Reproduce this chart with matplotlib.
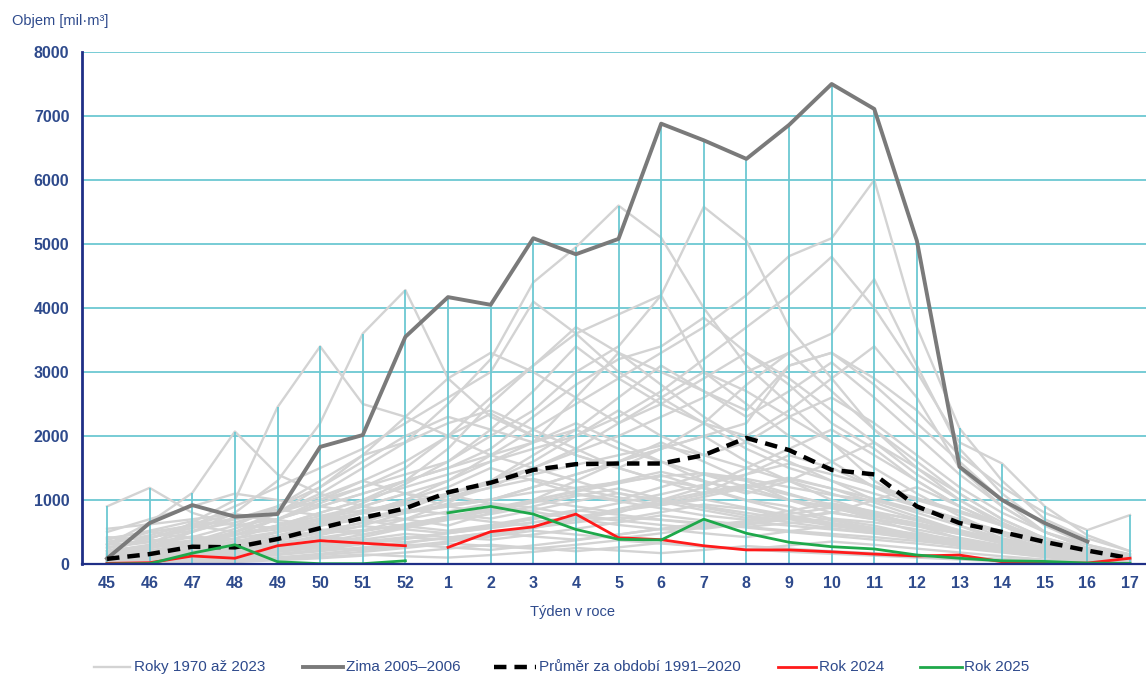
import numpy as np
import matplotlib
matplotlib.use("Agg")
import matplotlib.pyplot as plt
from matplotlib.lines import Line2D

plt.rcParams['font.family'] = ['Liberation Sans', 'DejaVu Sans']

# weeks of the winter season
weeks = [45, 46, 47, 48, 49, 50, 51, 52, 1, 2, 3, 4, 5, 6, 7, 8, 9, 10, 11, 12, 13, 14, 15, 16, 17]
yticks = [0, 1000, 2000, 3000, 4000, 5000, 6000, 7000, 8000]

# years 1970-2023
gray_years = [
    [120, 300, 650, 1000, 2450, 3400, 2500, 2300, 2000, 1700, 1500, 1300, 1100, 1000, 900, 800, 700, 600, 500, 400, 300, 200, 120, 60, 30],
    [900, 1190, 800, 600, 700, 900, 1100, 1300, 1500, 1700, 1900, 2100, 1800, 1600, 1400, 1200, 1000, 900, 700, 500, 350, 250, 150, 80, 40],
    [300, 650, 1110, 2070, 1400, 1100, 900, 800, 900, 1000, 1200, 1400, 1600, 1800, 2000, 1600, 1300, 1000, 800, 600, 400, 250, 150, 80, 40],
    [100, 250, 500, 800, 1300, 2200, 3600, 4280, 2900, 2300, 2000, 1700, 1500, 1300, 1200, 1000, 900, 700, 600, 450, 300, 200, 120, 60, 30],
    [50, 100, 180, 300, 450, 600, 800, 1000, 1300, 1700, 2100, 2500, 2900, 3300, 3700, 4200, 4810, 5090, 6000, 3700, 2120, 1300, 700, 400, 200],
    [80, 200, 350, 550, 800, 1100, 1500, 1900, 2500, 3200, 4400, 4950, 5600, 5100, 4000, 3100, 2500, 1900, 1300, 900, 600, 350, 200, 100, 50],
    [60, 150, 300, 450, 700, 950, 1200, 1500, 2000, 2600, 3100, 3600, 3900, 4200, 5580, 5050, 3700, 2900, 2100, 1500, 1000, 600, 300, 150, 70],
    [40, 90, 150, 250, 380, 500, 650, 850, 1100, 1300, 1500, 1750, 2000, 2300, 2600, 3000, 3300, 3600, 4450, 3100, 1800, 1100, 600, 300, 150],
    [200, 300, 420, 600, 900, 1200, 1600, 2000, 2300, 2100, 1900, 2600, 3300, 3000, 2700, 2400, 3100, 3300, 2800, 2200, 1600, 1000, 500, 250, 120],
    [150, 250, 350, 500, 700, 900, 1100, 1300, 1500, 1800, 2300, 2800, 3200, 3400, 3850, 3300, 2800, 2200, 1800, 1300, 900, 600, 400, 200, 100],
    [400, 500, 600, 700, 800, 1000, 1200, 1400, 1600, 2000, 2400, 3000, 3400, 4200, 3000, 2500, 2000, 1600, 1200, 900, 700, 400, 250, 120, 60],
    [100, 200, 300, 400, 500, 600, 700, 800, 900, 1000, 1200, 1400, 1600, 1800, 2000, 2200, 3100, 3300, 2900, 2400, 1700, 1200, 800, 530, 765],
    [250, 400, 600, 900, 1200, 1500, 1800, 2200, 2600, 3000, 4100, 3600, 3000, 2600, 2200, 1800, 1500, 1300, 1100, 900, 700, 500, 300, 150, 80],
    [50, 120, 250, 400, 600, 800, 1000, 1200, 1400, 1600, 1800, 2000, 2300, 2700, 3200, 3700, 4200, 4800, 4000, 3000, 1900, 1570, 900, 450, 200],
    [100, 180, 300, 500, 800, 1200, 1700, 2300, 2900, 3300, 3000, 2600, 2200, 2500, 2900, 3300, 2900, 2400, 1900, 1400, 1000, 650, 350, 180, 80],
    [60, 120, 200, 320, 500, 700, 950, 1250, 1600, 2100, 2700, 3400, 2900, 2500, 2200, 2000, 2400, 2900, 3400, 2600, 1500, 900, 500, 250, 100],
    [200, 260, 350, 460, 600, 800, 1000, 1300, 1800, 2500, 3100, 3700, 3300, 2800, 2300, 1900, 1600, 1300, 1000, 800, 600, 400, 250, 120, 50],
    [30, 60, 110, 170, 260, 380, 520, 700, 950, 1300, 1700, 2100, 2600, 3100, 2700, 2300, 2700, 3150, 2600, 2000, 1400, 900, 500, 250, 120],
    [350, 420, 520, 650, 820, 1050, 1300, 1600, 2000, 2350, 2000, 1700, 1500, 1800, 2200, 2800, 3300, 2700, 2100, 1600, 1100, 700, 400, 200, 90],
    [300, 350, 500, 700, 900, 1300, 1700, 1900, 2200, 2400, 2100, 1800, 1500, 1300, 1100, 1400, 1700, 1500, 1200, 1000, 800, 600, 400, 250, 150],
    [100, 150, 200, 300, 500, 700, 900, 1100, 1000, 1300, 1600, 2000, 2400, 2000, 1700, 1900, 2300, 2600, 2200, 1700, 1200, 800, 500, 300, 150],
    [500, 700, 900, 1100, 1000, 900, 800, 1000, 1200, 1500, 1300, 1100, 1000, 1200, 1400, 1300, 1100, 900, 800, 700, 500, 350, 200, 100, 50],
    [200, 400, 600, 500, 700, 1000, 1300, 1100, 900, 800, 1000, 1300, 1600, 1900, 1600, 1300, 1000, 800, 1000, 1200, 900, 600, 350, 200, 100],
    [50, 80, 120, 200, 300, 450, 600, 800, 1000, 1200, 1500, 1800, 2200, 2600, 3000, 2700, 2300, 1900, 1500, 1100, 750, 450, 250, 120, 60],
    [150, 200, 300, 450, 600, 750, 900, 1100, 1300, 1600, 1900, 2200, 1900, 1600, 1300, 1100, 1300, 1600, 1900, 1500, 1100, 700, 400, 200, 100],
    [300, 500, 400, 300, 400, 600, 800, 700, 600, 800, 1000, 900, 800, 1000, 1200, 1500, 1800, 2100, 1700, 1300, 900, 600, 350, 200, 100],
    [80, 150, 250, 350, 500, 650, 800, 950, 1100, 1250, 1400, 1550, 1700, 1850, 1700, 1500, 1300, 1100, 900, 700, 500, 350, 200, 100, 50],
    [20, 60, 140, 260, 380, 520, 640, 700, 820, 950, 880, 760, 690, 810, 930, 860, 720, 610, 540, 430, 320, 210, 130, 70, 30],
    [0, 30, 80, 150, 240, 310, 420, 560, 690, 780, 900, 1060, 1180, 1020, 880, 760, 650, 560, 480, 390, 280, 190, 110, 60, 20],
    [180, 260, 330, 290, 360, 480, 530, 610, 740, 660, 590, 720, 860, 990, 1120, 1240, 1080, 930, 780, 610, 470, 320, 190, 90, 40],
    [60, 90, 120, 180, 210, 280, 350, 420, 380, 450, 560, 690, 820, 950, 1090, 1210, 1350, 1180, 960, 740, 520, 340, 210, 110, 50],
    [240, 410, 560, 720, 850, 760, 680, 590, 520, 610, 730, 840, 770, 690, 620, 580, 640, 710, 650, 540, 410, 290, 170, 80, 40],
    [30, 40, 70, 110, 160, 220, 310, 390, 480, 570, 650, 740, 830, 920, 1010, 880, 760, 640, 520, 420, 330, 250, 160, 90, 40],
    [420, 380, 330, 460, 590, 710, 840, 960, 1080, 940, 820, 700, 610, 540, 600, 670, 730, 640, 560, 470, 380, 270, 160, 70, 20],
    [90, 160, 230, 310, 270, 340, 460, 590, 720, 860, 990, 1130, 1260, 1390, 1180, 990, 820, 680, 560, 440, 330, 220, 130, 60, 20],
    [10, 20, 50, 90, 140, 200, 260, 330, 410, 490, 570, 650, 730, 690, 640, 580, 520, 470, 420, 360, 290, 210, 140, 70, 30],
    [310, 450, 620, 780, 690, 600, 720, 850, 780, 710, 840, 980, 1110, 970, 840, 720, 830, 950, 820, 680, 530, 380, 230, 120, 50],
    [140, 210, 280, 350, 430, 510, 590, 540, 480, 560, 650, 740, 680, 610, 550, 630, 720, 810, 700, 590, 470, 350, 230, 130, 60],
    [70, 110, 180, 240, 330, 420, 380, 340, 410, 490, 430, 380, 460, 550, 640, 570, 500, 440, 380, 320, 250, 180, 110, 60, 30],
    [200, 290, 370, 460, 540, 630, 700, 820, 930, 1010, 1120, 1190, 1280, 1370, 1420, 1330, 1200, 1080, 990, 840, 700, 510, 320, 160, 70],
    [550, 620, 700, 780, 650, 540, 460, 580, 700, 830, 960, 1090, 980, 870, 760, 690, 780, 880, 760, 640, 500, 360, 220, 110, 50],
    [0, 10, 30, 60, 100, 160, 230, 310, 260, 220, 290, 370, 460, 550, 480, 420, 510, 600, 540, 460, 370, 270, 170, 90, 30],
    [260, 340, 430, 380, 320, 410, 510, 620, 740, 870, 1000, 1140, 1290, 1440, 1290, 1140, 1000, 870, 740, 620, 500, 380, 250, 130, 60],
    [110, 130, 170, 220, 290, 250, 220, 280, 350, 430, 520, 460, 400, 480, 570, 660, 600, 540, 480, 410, 330, 240, 150, 80, 40],
    [380, 520, 670, 610, 560, 680, 800, 930, 1060, 1190, 1330, 1180, 1040, 920, 1050, 1190, 1330, 1180, 1020, 850, 670, 480, 290, 140, 60],
    [40, 70, 100, 140, 190, 250, 320, 400, 490, 590, 700, 820, 950, 1090, 1240, 1400, 1570, 1400, 1220, 1030, 830, 620, 410, 220, 90],
    [160, 230, 200, 170, 230, 300, 380, 470, 420, 380, 460, 550, 650, 760, 680, 610, 700, 800, 700, 600, 490, 380, 260, 140, 60],
    [0, 0, 10, 30, 60, 90, 130, 180, 240, 300, 250, 200, 260, 330, 280, 230, 190, 160, 130, 100, 70, 40, 20, 10, 0],
    [20, 30, 40, 60, 80, 110, 150, 120, 100, 140, 190, 250, 210, 170, 220, 280, 240, 200, 170, 140, 110, 80, 50, 30, 10],
    [80, 60, 50, 70, 100, 140, 190, 250, 320, 280, 240, 300, 370, 320, 270, 230, 290, 350, 300, 240, 180, 120, 70, 40, 20],
]

zima_2005_2006 = [85, 640, 920, 740, 780, 1830, 2015, 3550, 4170, 4050, 5090, 4840, 5080, 6880, 6620,
                  6330, 6860, 7500, 7110, 5050, 1520, 1000, 640, 350, np.nan]
prumer_1991_2020 = [80, 155, 270, 260, 390, 560, 720, 870, 1120, 1270, 1470, 1560, 1570, 1570, 1700,
                    1970, 1780, 1470, 1400, 900, 640, 500, 345, 210, 90]
rok_2024 = [10, 20, 125, 90, 285, 365, 325, 285, 260, 505, 580, 780, 410, 380, 285, 220, 220, 190,
            155, 125, 140, 35, 15, 15, 90]
rok_2025 = [0, 5, 170, 300, 35, 5, 5, 50, 800, 900, 780, 540, 385, 375, 700, 480, 340, 270, 235,
            140, 90, 50, 40, 15, 10]

COLORS = {
    'gray': '#d3d3d3',
    'zima': '#7a7a7a',
    'mean': '#000000',
    'red': '#ff1a1a',
    'green': '#1ea84a',
    'grid': '#6cc8d2',
    'axis': '#1f2f86',
    'text': '#2e4a8c',
}

x = np.arange(len(weeks))

fig = plt.figure(figsize=(11.46, 6.77), dpi=100)
ax = fig.add_axes([82 / 1146, 1 - 564 / 677, 1 - 82 / 1146, (564 - 52) / 677])

# horizontal gridlines
for yv in yticks[1:]:
    ax.axhline(yv, color=COLORS['grid'], lw=1.3, zorder=1)

for series in gray_years:
    ax.plot(x, series, color=COLORS['gray'], lw=1.7, zorder=2)

# drop lines up to the highest value in each week
all_series = np.array(gray_years + [zima_2005_2006, prumer_1991_2020, rok_2024, rok_2025], dtype=float)
top = np.nanmax(all_series, axis=0)
ax.vlines(x, 0, top, color=COLORS['grid'], lw=1.3, zorder=3)

ax.plot(x, zima_2005_2006, color=COLORS['zima'], lw=2.8, zorder=4)
ax.plot(x, prumer_1991_2020, color=COLORS['mean'], lw=3.2, dashes=(2.8, 1.8), zorder=5)
# autumn and spring parts are not joined
for arr, col in [(rok_2024, COLORS['red']), (rok_2025, COLORS['green'])]:
    ax.plot(x[:8], arr[:8], color=col, lw=2.0, zorder=6)
    ax.plot(x[8:], arr[8:], color=col, lw=2.0, zorder=6)

ax.set_xlim(-0.587, 24.375)
ax.set_ylim(0, 8000)
ax.set_xticks(x)
ax.set_xticklabels([str(w) for w in weeks])
ax.set_yticks(yticks)
ax.tick_params(length=0, labelsize=11.5, labelcolor=COLORS['text'])
ax.tick_params(axis='y', pad=9)
ax.tick_params(axis='x', pad=9)
for lab in ax.get_xticklabels() + ax.get_yticklabels():
    lab.set_fontweight('bold')

for s in ['top', 'right']:
    ax.spines[s].set_visible(False)
ax.spines['left'].set_color(COLORS['axis'])
ax.spines['left'].set_linewidth(2.0)
ax.spines['bottom'].set_color(COLORS['axis'])
ax.spines['bottom'].set_linewidth(1.6)
ax.spines['left'].set_zorder(7)
ax.spines['bottom'].set_zorder(7)

fig.text(12 / 1146, 1 - 21 / 677, 'Objem [mil·m³]', fontsize=10.5, color=COLORS['text'],
         ha='left', va='center')
fig.text(572 / 1146, 1 - 612 / 677, 'Týden v roce', fontsize=10.5, color=COLORS['text'],
         ha='center', va='center')

# legend along the bottom
legend_items = [
    (94, 130, 134, 'Roky 1970 až 2023', dict(color=COLORS['gray'], lw=1.7)),
    (303, 343, 346, 'Zima 2005–2006', dict(color=COLORS['zima'], lw=2.8)),
    (494, 536, 539, 'Průměr za období 1991–2020', dict(color='black', lw=3.2, dashes=(2.8, 1.8))),
    (778, 816, 819, 'Rok 2024', dict(color=COLORS['red'], lw=2.0)),
    (920, 962, 964, 'Rok 2025', dict(color=COLORS['green'], lw=2.0)),
]
ly = 1 - 667 / 677
for x0, x1, xt, label, style in legend_items:
    fig.add_artist(Line2D([x0 / 1146, x1 / 1146], [ly, ly], transform=fig.transFigure, **style))
    fig.text(xt / 1146, ly, label, fontsize=11, color=COLORS['text'], ha='left', va='center')

fig.savefig('out.png', dpi=100)
